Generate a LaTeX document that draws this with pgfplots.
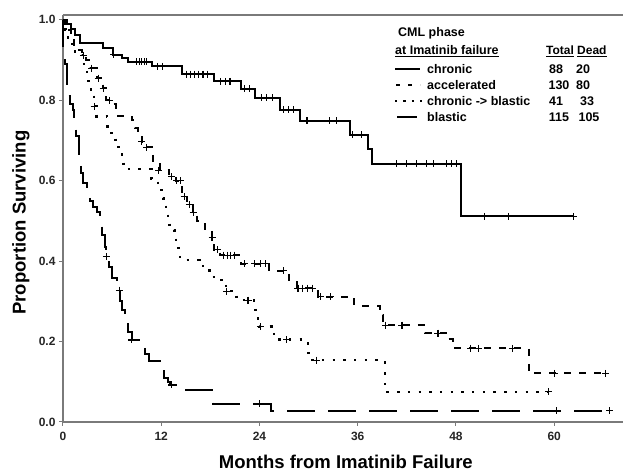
\documentclass[border=0pt]{standalone}
\usepackage{fontspec}
\setmainfont{Liberation Sans}
\usepackage{pgfplots}
\pgfplotsset{compat=1.18}
\definecolor{axgray}{HTML}{7A7A7A}
\tikzset{
  lbl/.style={font=\fontsize{12.5}{14}\selectfont\bfseries,inner sep=0pt,anchor=west},
  crv/.style={black,line width=2pt,const plot},
  cens/.style={only marks,mark=+,mark size=3.5pt,mark options={solid,black,line width=1.1pt}},
}
\newcommand{\px}[2]{({(#1-63)*1pt},{(422-#2)*1pt})}
\begin{document}
\begin{tikzpicture}
\begin{axis}[
  at={(0,0)}, anchor=south west,
  scale only axis, width=560pt, height=407pt,
  xmin=0, xmax=68.4, ymin=0, ymax=1.012,
  axis lines*=left, clip=false,
  axis line style={axgray,line width=1.2pt},
  tick style={axgray,line width=1pt},
  tick align=outside, major tick length=4pt,
  xtick={0,12,24,36,48,60},
  ytick={0,0.2,0.4,0.6,0.8,1.0},
  yticklabel style={/pgf/number format/fixed,/pgf/number format/fixed zerofill,/pgf/number format/precision=1},
  /pgf/number format/assume math mode=true,
  tick label style={font=\fontsize{12}{14}\selectfont\bfseries,text=black!85},
  xticklabel style={yshift=-3pt},
  xlabel={Months from Imatinib Failure},
  ylabel={Proportion Surviving},
  label style={font=\fontsize{18.5}{21}\selectfont\bfseries},
  xlabel style={at={(axis description cs:0.505,-0.098)},anchor=center},
  ylabel style={at={(axis description cs:-0.075,0.49)},anchor=center},
]
% chronic
\addplot[crv] coordinates {(0,1.0) (0.5,0.99) (1.0,0.977) (1.5,0.962) (2.1,0.943) (4.9,0.931)
  (6.1,0.913) (7.2,0.905) (8.0,0.896) (10.9,0.884) (14.5,0.865) (18.4,0.847) (21.8,0.828)
  (23.4,0.806) (26.5,0.776) (28.9,0.749) (35.0,0.714) (37.3,0.68) (37.7,0.642) (48.6,0.511) (62.3,0.511)};
\addplot[cens] coordinates {(6.2,0.913) (9.0,0.896) (9.3,0.896) (9.6,0.896) (9.9,0.896) (10.2,0.896)
  (11.5,0.884) (12.1,0.884) (15.1,0.865) (15.6,0.865) (16.1,0.865) (16.6,0.865) (17.1,0.865) (17.6,0.865)
  (19.2,0.847) (19.8,0.847) (20.4,0.847) (22.2,0.828) (22.8,0.828) (24.3,0.806) (24.9,0.806) (25.6,0.806)
  (26.9,0.776) (27.5,0.776) (28.1,0.776) (29.8,0.749) (32.6,0.749) (33.4,0.749) (35.4,0.714) (36.5,0.714)
  (40.7,0.642) (42.0,0.642) (43.2,0.642) (44.4,0.642) (45.2,0.642) (46.8,0.642) (47.5,0.642) (48.1,0.642)
  (51.5,0.511) (54.4,0.511) (62.3,0.511)};
% accelerated
\addplot[crv,dash pattern=on 7pt off 8pt] coordinates {(0,1.0) (0.3,0.99) (0.6,0.975) (1.0,0.96) (1.3,0.925)
  (2.3,0.912) (2.8,0.90) (3.3,0.88) (4.1,0.855) (4.9,0.83) (5.3,0.80) (5.9,0.79) (6.5,0.762) (8.4,0.75)
  (8.8,0.73) (9.1,0.72) (9.6,0.697) (10.2,0.683) (11.0,0.65) (11.8,0.626) (13.0,0.61) (13.8,0.60)
  (14.5,0.56) (15.2,0.54) (15.9,0.522) (16.4,0.50) (17.3,0.48) (18.2,0.459) (18.4,0.428) (19.2,0.415)
  (21.7,0.393) (25.2,0.376) (27.6,0.349) (28.6,0.333) (31.1,0.312) (35.6,0.289) (38.7,0.266)
  (39.1,0.241) (44.2,0.221) (47.0,0.206) (47.6,0.183) (56.9,0.121) (66.4,0.121)};
\addplot[cens] coordinates {(2.5,0.912) (3.5,0.88) (4.3,0.855) (4.9,0.83) (5.7,0.80) (9.6,0.697)
  (10.2,0.683) (11.7,0.626) (13.3,0.61) (13.9,0.60) (14.3,0.60) (14.8,0.56) (15.4,0.54) (15.9,0.522)
  (18.2,0.459) (18.9,0.428) (19.6,0.415) (20.1,0.415) (20.5,0.415) (21.0,0.415) (22.2,0.393) (23.4,0.393)
  (24.1,0.393) (24.7,0.393) (26.9,0.376) (28.7,0.333) (29.3,0.333) (29.9,0.333) (30.5,0.333)
  (31.5,0.312) (32.7,0.312) (39.4,0.241) (41.4,0.241) (45.8,0.221) (49.8,0.183) (50.8,0.183)
  (54.9,0.183) (60.0,0.121) (66.3,0.121)};
% chronic -> blastic
\addplot[crv,line width=2.4pt,dash pattern=on 2.4pt off 8.3pt] coordinates {(0,1.0) (0.3,0.975) (0.6,0.95)
  (1.1,0.93) (1.5,0.913) (2.4,0.89) (2.9,0.87) (3.1,0.838) (3.4,0.82) (3.8,0.785) (4.1,0.76) (5.4,0.735)
  (5.6,0.719) (6.0,0.706) (6.4,0.694) (6.8,0.672) (7.2,0.657) (7.4,0.629) (10.8,0.604) (11.6,0.594)
  (12.0,0.577) (12.2,0.556) (12.6,0.523) (12.8,0.495) (13.0,0.478) (13.6,0.465) (13.8,0.44)
  (14.1,0.428) (14.3,0.403) (16.7,0.395) (17.1,0.382) (17.9,0.361) (18.8,0.353) (19.4,0.345)
  (19.9,0.325) (21.2,0.303) (23.3,0.285) (23.5,0.271) (23.8,0.25) (24.0,0.237) (25.5,0.225)
  (25.8,0.215) (26.1,0.205) (29.9,0.18) (30.0,0.154) (39.3,0.075) (59.3,0.075)};
\addplot[cens] coordinates {(3.8,0.785) (20.0,0.325) (22.6,0.303) (24.1,0.237) (27.3,0.205)
  (31.0,0.154) (59.3,0.075)};
% blastic
\addplot[crv,dash pattern=on 28pt off 13pt] coordinates {(0,1.0) (0.04,0.92) (0.2,0.89) (0.45,0.86)
  (0.5,0.81) (0.9,0.79) (1.25,0.776) (1.4,0.739) (1.6,0.71) (1.9,0.68) (1.95,0.648) (2.2,0.62)
  (2.5,0.594) (2.9,0.57) (3.3,0.55) (3.7,0.535) (4.1,0.523) (4.5,0.498) (4.8,0.465) (5.1,0.436)
  (5.3,0.411) (5.6,0.385) (6.0,0.357) (6.6,0.328) (7.0,0.30) (7.2,0.279) (7.6,0.246) (8.0,0.225)
  (8.4,0.204) (9.6,0.187) (10.0,0.17) (10.5,0.152) (11.8,0.129) (12.3,0.11) (12.8,0.1) (13.1,0.092)
  (14.5,0.08) (18.35,0.045) (25.4,0.028) (66.8,0.028)};
\addplot[cens] coordinates {(5.3,0.411) (6.9,0.328) (8.4,0.204) (13.3,0.092) (24.05,0.045)
  (60.3,0.028) (66.8,0.028)};
\draw[axgray,line width=1.2pt] (rel axis cs:0,1) -- (rel axis cs:1,1);
\end{axis}
% legend
\node[lbl] at \px{398}{33} {CML phase};
\node[lbl] at \px{395}{51} {\underline{at Imatinib failure}};
\node[lbl,font=\fontsize{12}{14}\selectfont\bfseries] at \px{546}{51} {\underline{Total}};
\node[lbl,font=\fontsize{12}{14}\selectfont\bfseries] at \px{577}{51} {\underline{Dead}};
\draw[black,line width=2pt] \px{395}{69} -- \px{420}{69};
\draw[black,line width=2pt,dash pattern=on 4pt off 8pt] \px{396}{85} -- \px{420}{85};
\draw[black,line width=2.4pt,dash pattern=on 2.4pt off 6pt] \px{395}{101} -- \px{422}{101};
\draw[black,line width=2pt] \px{397}{117} -- \px{417}{117};
\node[lbl] at \px{427}{69} {chronic};
\node[lbl] at \px{427}{85} {accelerated};
\node[lbl] at \px{427}{101} {chronic -> blastic};
\node[lbl] at \px{427}{117} {blastic};
\node[lbl,anchor=center] at \px{556}{69} {88};
\node[lbl,anchor=center] at \px{559}{85} {130};
\node[lbl,anchor=center] at \px{556}{101} {41};
\node[lbl,anchor=center] at \px{559}{117} {115};
\node[lbl,anchor=center] at \px{583}{69} {20};
\node[lbl,anchor=center] at \px{583}{85} {80};
\node[lbl,anchor=center] at \px{587}{101} {33};
\node[lbl,anchor=center] at \px{589}{117} {105};
\pgfresetboundingbox
\path \px{0}{0} rectangle \px{623}{473};
\end{tikzpicture}
\end{document}
